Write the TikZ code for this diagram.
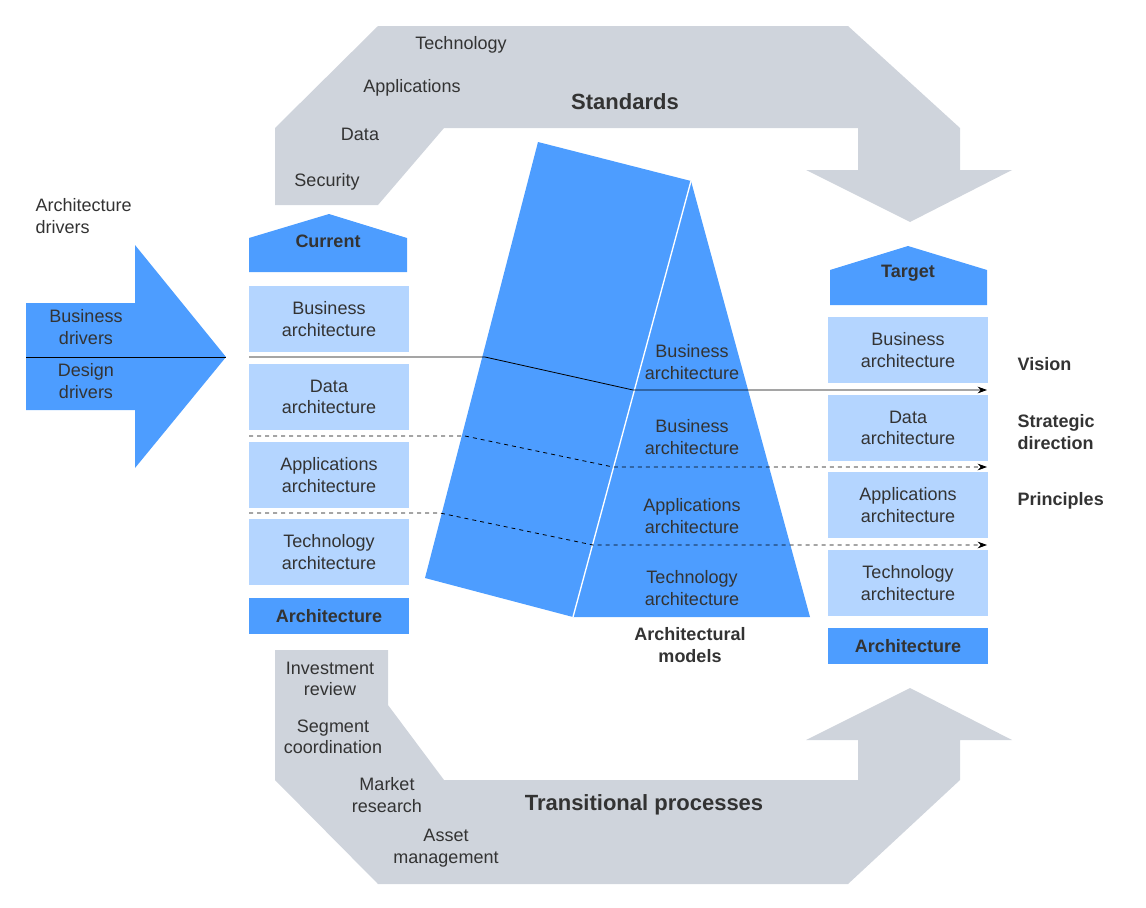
\documentclass[tikz,border=0pt]{standalone}
\usepackage{fontspec}
\setmainfont{Liberation Sans}
\usetikzlibrary{arrows.meta}
\definecolor{gr}{HTML}{CFD4DC}
\definecolor{bl}{HTML}{4D9DFF}
\definecolor{lb}{HTML}{B4D5FF}
\definecolor{tx}{HTML}{333333}
\begin{document}
\begin{tikzpicture}[x=0.75pt,y=-0.75pt,
 t/.style={text=tx,font=\fontsize{13.5pt}{16pt}\selectfont,align=center},
 tb/.style={t,font=\fontsize{13.5pt}{16pt}\selectfont\bfseries},
 box/.style={fill=lb,draw=none,minimum width=120pt,minimum height=49.5pt,t},
 abox/.style={fill=bl,draw=none,minimum width=120pt,minimum height=27pt,tb},
 ln/.style={draw=black,line width=0.6pt},
 ar/.style={ln,-{Stealth[length=7pt,width=5pt]}}]
\useasboundingbox (0,0) rectangle (1146,907);
% gray arrows
\fill[gr] (275,205)--(275,128)--(378,26)--(848,26)--(960,128)--(960,170)--(1012,170)--(910,222)--(806,170)--(858,170)--(858,128)--(444,128)--(378,205)--cycle;
\fill[gr] (275,650)--(275,780)--(378,884)--(848,884)--(960,780)--(960,740)--(1012,740)--(910,688)--(806,740)--(858,740)--(858,780)--(444,780)--(388,705)--(388,650)--cycle;
% left arrow
\fill[bl] (26,303)--(135,303)--(135,245)--(226,357)--(135,468)--(135,410)--(26,410)--cycle;
% prism
\fill[bl] (538,142)--(691,181)--(573,617)--(425,578)--cycle;
\fill[bl] (691,181)--(810,617)--(573,617)--cycle;
\draw[white,line width=1pt] (691,181)--(573,617);
% current column
\fill[bl] (249,238)--(329,214)--(407,238)--(407,272)--(249,272)--cycle;
\node[tb] (cur) at (328,241) {Current};
\node[box] (cb) at (329,319) {Business\\architecture};
\node[box] (cd) at (329,397) {Data\\architecture};
\node[box] (ca) at (329,475) {Applications\\architecture};
\node[box] (ct) at (329,552) {Technology\\architecture};
\node[abox] (carch) at (329,616) {Architecture};
% target column
\fill[bl] (830,270)--(908,246)--(987,270)--(987,305)--(830,305)--cycle;
\node[tb] (tgt) at (908,273) {Target};
\node[box] (tb1) at (908,350) {Business\\architecture};
\node[box] (td) at (908,428) {Data\\architecture};
\node[box] (ta) at (908,505) {Applications\\architecture};
\node[box] (tt) at (908,583) {Technology\\architecture};
\node[abox] (tarch) at (908,646) {Architecture};
% prism labels
\node[t] (p1) at (692,362) {Business\\architecture};
\node[t] (p2) at (692,437) {Business\\architecture};
\node[t] (p3) at (692,516) {Applications\\architecture};
\node[t] (p4) at (692,588) {Technology\\architecture};
\node[tb] (pm) at (690,645) {Architectural\\models};
% lines
\coordinate (a0) at (26,357); \coordinate (a1) at (226,357);
\draw[ln] (a0)--(a1);
\coordinate (s0) at (249,357); \coordinate (s1) at (485,357); \coordinate (s2) at (633,390); \coordinate (s3) at (987,390);
\draw[ar] (s0)--(s1)--(s2)--(s3);
\coordinate (d0) at (249,436); \coordinate (d1) at (465,436); \coordinate (d2) at (613,467); \coordinate (d3) at (987,467);
\draw[ar,dashed] (d0)--(d1)--(d2)--(d3);
\coordinate (e0) at (249,513); \coordinate (e1) at (440,513); \coordinate (e2) at (593,545); \coordinate (e3) at (987,545);
\draw[ar,dashed] (e0)--(e1)--(e2)--(e3);
% left texts
\node[t,align=left,anchor=west] (ad) at (31,216) {Architecture\\drivers};
\node[t] (bd) at (86,327) {Business\\drivers};
\node[t] (dd) at (86,381) {Design\\drivers};
% right texts
\node[tb,anchor=west] (vis) at (1013,364) {Vision};
\node[tb,anchor=west,align=left] (sd) at (1013,432) {Strategic\\direction};
\node[tb,anchor=west] (pr) at (1013,501) {Principles};
% standards
\node[t] (s_t) at (461,45) {Technology};
\node[t] (s_a) at (412,88) {Applications};
\node[t] (s_d) at (360,134) {Data};
\node[t] (s_s) at (327,182) {Security};
\node[tb,font=\fontsize{16.5pt}{19pt}\selectfont\bfseries] (std) at (625,102) {Standards};
% transitional
\node[t] (i1) at (330,679) {Investment\\review};
\node[t] (i2) at (333,737) {Segment\\coordination};
\node[t] (i3) at (387,795) {Market\\research};
\node[t] (i4) at (446,848) {Asset\\management};
\node[tb,font=\fontsize{16.5pt}{19pt}\selectfont\bfseries] (tp) at (644,805) {Transitional processes};
\end{tikzpicture}
\end{document}
